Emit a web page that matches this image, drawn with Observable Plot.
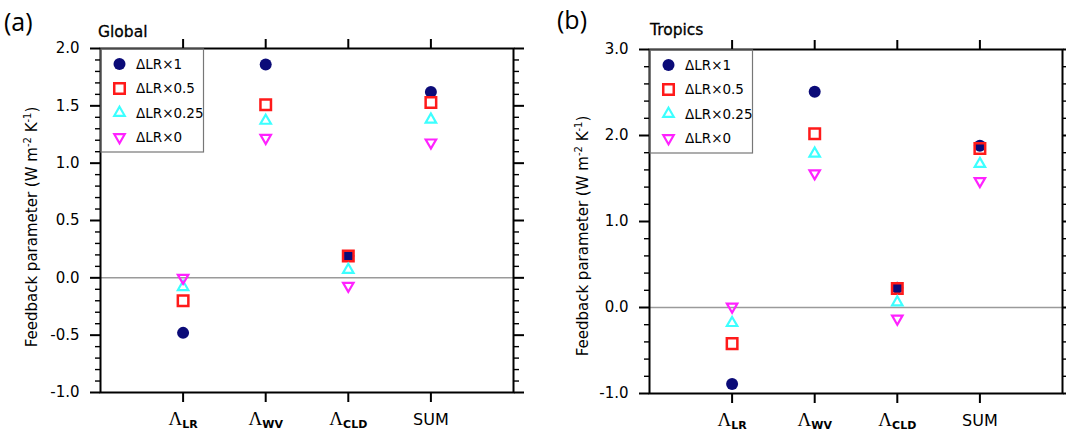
<!DOCTYPE html>
<html><head><meta charset="utf-8">
<script src="https://cdn.jsdelivr.net/npm/d3@7"></script>
<script src="https://cdn.jsdelivr.net/npm/@observablehq/plot@0.6"></script>
<style>
body{margin:0;background:#fff;}
#wrap{position:relative;width:1066px;height:433px;overflow:hidden;background:#fff;}
.panel{position:absolute;top:0;width:533px;height:433px;}
</style></head><body><div id="wrap"></div>
<script>
// ---- data ----
const categories = ["LR", "WV", "CLD", "SUM"];
const categoryMain = ["Λ", "Λ", "Λ", "SUM"];
const categorySub = ["LR", "WV", "CLD", ""];
const seriesNames = ["ΔLR×1", "ΔLR×0.5", "ΔLR×0.25", "ΔLR×0"];
const seriesColors = ["#0b0b78", "#ff1a1a", "#3cffff", "#ff22ff"];

const globalLR1   = [-0.48, 1.86, 0.19, 1.62];
const globalLR05  = [-0.20, 1.51, 0.19, 1.53];
const globalLR025 = [-0.08, 1.37, 0.07, 1.38];
const globalLR0   = [ 0.00, 1.22, -0.07, 1.18];

const tropicsLR1   = [-0.89, 2.51, 0.23, 1.88];
const tropicsLR05  = [-0.42, 2.02, 0.22, 1.85];
const tropicsLR025 = [-0.18, 1.79, 0.06, 1.67];
const tropicsLR0   = [ 0.01, 1.56, -0.13, 1.47];

const globalYTicks  = [-1.0, -0.5, 0.0, 0.5, 1.0, 1.5, 2.0];
const tropicsYTicks = [-1.0, 0.0, 1.0, 2.0, 3.0];
const xTickPositions = [1, 2, 3, 4];

const panels = [
  {letter: "(a)", title: "Global", left: 0, ml: 100, mr: 20, mt: 48, mb: 41,
   yDomain: [-1, 2], major: globalYTicks, minorStep: 0.1,
   vals: [globalLR1, globalLR05, globalLR025, globalLR0],
   letterX: 4, letterY: 31, titleX: 98, titleY: 37, labelX: 37, labelY: 227},
  {letter: "(b)", title: "Tropics", left: 533, ml: 116, mr: 4, mt: 49, mb: 40,
   yDomain: [-1, 3], major: tropicsYTicks, minorStep: 0.2,
   vals: [tropicsLR1, tropicsLR05, tropicsLR025, tropicsLR0],
   letterX: 24, letterY: 29, titleX: 117, titleY: 35, labelX: 55, labelY: 236}
];

const symbolSpecs = [
  {symbol: "circle", r: 6, filled: true, sw: 0, rotate: 0},
  {symbol: "square2", r: 6.7, filled: false, sw: 2.5, rotate: 0},
  {symbol: "triangle2", r: 5, filled: false, sw: 2.2, rotate: 0},
  {symbol: "triangle2", r: 5, filled: false, sw: 2.2, rotate: 180}
];
const d3Sym = {circle: d3.symbolCircle, square2: d3.symbolSquare2, triangle2: d3.symbolTriangle2};

const wrap = document.getElementById("wrap");

panels.forEach(p => {
  const [y0, y1] = p.yDomain;
  const minor = d3.range(Math.round((y1 - y0) / p.minorStep) + 1)
    .map(k => +(y0 + k * p.minorStep).toFixed(2))
    .filter(v => !p.major.some(m => Math.abs(m - v) < 1e-6));

  const dotMarks = p.vals.map((vals, s) => {
    const spec = symbolSpecs[s];
    const rows = categories.map((c, i) => ({pos: i + 1, value: vals[i], cat: c}));
    return Plot.dot(rows, {
      x: "pos", y: "value", r: spec.r, symbol: spec.symbol,
      fill: spec.filled ? seriesColors[s] : "none",
      stroke: spec.filled ? "none" : seriesColors[s],
      strokeWidth: spec.sw, rotate: spec.rotate
    });
  });

  const svg = Plot.plot({
    width: 533, height: 433,
    marginLeft: p.ml, marginRight: p.mr, marginTop: p.mt, marginBottom: p.mb,
    style: {fontFamily: "DejaVu Sans", fontSize: "15px", color: "#000", background: "transparent", overflow: "visible"},
    x: {domain: [0, 5]},
    y: {domain: p.yDomain},
    marks: [
      Plot.ruleY([0], {stroke: "#9a9a9a", strokeWidth: 1.5}),
      Plot.axisY(minor, {anchor: "left", tickSize: 5, tickFormat: () => "", label: null, strokeWidth: 1.4}),
      Plot.axisY(minor, {anchor: "right", tickSize: 5, tickFormat: () => "", label: null, strokeWidth: 1.4}),
      Plot.axisY(p.major, {anchor: "left", tickSize: 10, tickPadding: 11, tickFormat: d => d.toFixed(1), label: null, strokeWidth: 2, fontSize: 15}),
      Plot.axisY(p.major, {anchor: "right", tickSize: 10, tickFormat: () => "", label: null, strokeWidth: 2}),
      Plot.axisX(xTickPositions, {anchor: "top", tickSize: 10, tickFormat: () => "", label: null, strokeWidth: 2}),
      Plot.axisX(xTickPositions, {anchor: "bottom", tickSize: 10, tickPadding: 11,
        tickFormat: d => categoryMain[d - 1] + "|" + categorySub[d - 1], label: null, strokeWidth: 2, fontSize: 16}),
      ...dotMarks,
      Plot.frame({stroke: "#000", strokeWidth: 2})
    ]
  });

  const S = d3.select(svg);
  // category labels with subscripts
  S.selectAll('g[aria-label="x-axis tick label"] text').each(function () {
    const t = this.textContent;
    if (!t.includes("|")) return;
    const [main, sub] = t.split("|");
    const el = d3.select(this);
    el.text(null);
    if (sub) {
      el.append("tspan").attr("font-family", "Liberation Serif").attr("font-size", 19).text(main);
      el.append("tspan").attr("font-weight", "bold").attr("font-size", 11).attr("dy", 3).text(sub);
    } else {
      el.append("tspan").text(main);
    }
  });

  // legend
  const fx = p.ml, fy = p.mt;
  const lg = S.append("g").attr("aria-label", "legend").attr("text-anchor", "start");
  lg.append("rect").attr("x", fx + 1).attr("y", fy + 1).attr("width", 102.5).attr("height", 103)
    .attr("fill", "none").attr("stroke", "#777").attr("stroke-width", 1.2);
  seriesNames.forEach((name, s) => {
    const spec = symbolSpecs[s];
    const cy = fy + 16 + 24.4 * s;
    lg.append("path")
      .attr("d", d3.symbol(d3Sym[spec.symbol], Math.PI * spec.r * spec.r)())
      .attr("transform", `translate(${fx + 19.5},${cy}) rotate(${spec.rotate})`)
      .attr("fill", spec.filled ? seriesColors[s] : "none")
      .attr("stroke", spec.filled ? "none" : seriesColors[s])
      .attr("stroke-width", spec.sw);
    lg.append("text").attr("x", fx + 36).attr("y", cy + 5)
      .attr("text-anchor", "start")
      .attr("font-family", "DejaVu Sans").attr("font-size", 13.5).text(name);
  });

  // panel letter, title, y label
  S.append("text").attr("x", p.letterX).attr("y", p.letterY).attr("text-anchor", "start")
    .attr("font-family", "Open Sans").attr("font-size", 25).text(p.letter);
  S.append("text").attr("x", p.titleX).attr("y", p.titleY).attr("text-anchor", "start")
    .attr("font-family", "DejaVu Sans").attr("font-size", 15.5)
    .attr("stroke", "#000").attr("stroke-width", 0.3).text(p.title);
  const yl = S.append("text").attr("text-anchor", "middle")
    .attr("transform", `translate(${p.labelX},${p.labelY}) rotate(-90)`)
    .attr("font-family", "DejaVu Sans").attr("font-size", 15);
  yl.append("tspan").text("Feedback parameter (W m");
  yl.append("tspan").attr("font-size", 10).attr("dy", -6).text("-2");
  yl.append("tspan").attr("dy", 6).text(" K");
  yl.append("tspan").attr("font-size", 10).attr("dy", -6).text("-1");
  yl.append("tspan").attr("dy", 6).text(")");

  const div = document.createElement("div");
  div.className = "panel";
  div.style.left = p.left + "px";
  div.appendChild(svg);
  wrap.appendChild(div);
});
</script></body></html>
